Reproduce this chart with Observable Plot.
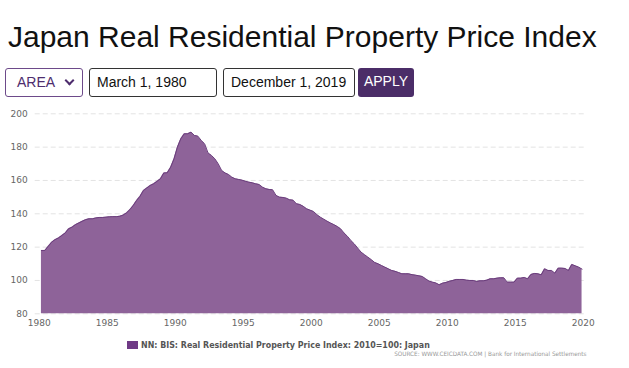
<!DOCTYPE html>
<html>
<head>
<meta charset="utf-8">
<script src="https://cdn.jsdelivr.net/npm/d3@7"></script>
<script src="https://cdn.jsdelivr.net/npm/@observablehq/plot@0.6"></script>
<style>
  html, body { margin: 0; padding: 0; background: #fff; }
  #page { position: relative; width: 629px; height: 368px; overflow: hidden; font-family: "Liberation Sans", Arial, sans-serif; }
  #title { position: absolute; left: 8px; top: 22px; font-size: 30px; line-height: 30px; color: #111; white-space: nowrap; }
  .ctl { position: absolute; top: 68px; height: 29px; box-sizing: border-box; border-radius: 3px; font-size: 14px; line-height: 27px; white-space: nowrap; }
  #sel { left: 5px; width: 78px; border: 1px solid #6d4a8a; color: #4e2d6e; padding-left: 11px; }
  #sel .chev { position: absolute; right: 9px; top: 8px; width: 5px; height: 5px; border-right: 2px solid #4e2d6e; border-bottom: 2px solid #4e2d6e; transform: rotate(45deg); }
  #d1 { left: 89px; width: 128px; border: 1px solid #333; color: #111; padding-left: 7px; }
  #d2 { left: 223px; width: 132px; border: 1px solid #333; color: #111; padding-left: 7px; }
  #apply { left: 358px; width: 56px; background: #4b2d68; color: #fff; text-align: center; }
  #chart { position: absolute; left: 0; top: 100px; }
  #legend { position: absolute; left: 127px; top: 340px; font-family: "DejaVu Sans", sans-serif; font-weight: bold; font-size: 9px; color: #555; white-space: nowrap; display: flex; align-items: center; }
  #legend .sw { width: 11px; height: 8px; background: #6f3a86; margin-right: 3px; }
  #legtext { display: inline-block; transform: scaleX(0.88); transform-origin: left center; }
  #source { position: absolute; right: 42px; top: 350px; font-family: "DejaVu Sans", sans-serif; font-size: 6px; color: #999; white-space: nowrap; transform: scaleX(0.95); transform-origin: right center; }
</style>
</head>
<body>
<div id="page">
  <div id="title">Japan Real Residential Property Price Index</div>
  <div class="ctl" id="sel">AREA<span class="chev"></span></div>
  <div class="ctl" id="d1">March 1, 1980</div>
  <div class="ctl" id="d2">December 1, 2019</div>
  <div class="ctl" id="apply">APPLY</div>
  <div id="chart"></div>
  <div id="legend"><span class="sw"></span><span id="legtext"></span></div>
  <div id="source">SOURCE: WWW.CEICDATA.COM | Bank for International Settlements</div>
</div>
<script>
// Quarterly observations (Mar, Jun, Sep, Dec), index 2010=100
const startYear = 1980;
const quarterMonths = [2, 5, 8, 11];
const values1980s = [
  118, 118, 120.5, 123,
  124.5, 125.5, 127, 128.5,
  131, 132, 133.5, 134.5,
  135.5, 136.5, 137, 137,
  137.5, 137.8, 137.8, 138,
  138.2, 138.3, 138.3, 138.5,
  139.2, 140.5, 142.5, 145,
  148, 150.5, 154, 155.5,
  157, 158, 159.5, 161,
  164.5, 164.6, 168, 173
];
const values1990s = [
  180, 185, 188, 188,
  189, 187, 186.6, 184,
  182, 176.5, 175, 173,
  170, 166, 164.5, 163.6,
  162, 161, 160.6, 160.2,
  159.5, 159, 158.6, 158,
  157.6, 156, 155, 154.6,
  154.4, 151, 150, 149.8,
  149.4, 148.4, 148.2, 146,
  145.6, 144.5, 143, 142.2
];
const values2000s = [
  141.4, 139.5, 138, 136.8,
  135.6, 134.5, 133.5, 132.4,
  131, 128.5, 126.5, 124,
  122, 119.5, 117, 115.5,
  114, 112.5, 110.8, 110,
  109, 108, 107, 106,
  105.5, 104.8, 104, 104,
  104, 103.5, 103.2, 102.8,
  102.4, 101, 99.6, 99,
  98.5, 97.4, 98.4, 98.8
];
const values2010s = [
  99.5, 100, 100.6, 100.6,
  100.6, 100.2, 100, 100,
  99.4, 99.8, 99.8, 100.2,
  101, 101, 101.4, 101.6,
  101.6, 99, 99, 99,
  101.4, 101.4, 101.8, 101,
  103.6, 104.2, 104, 103.4,
  107, 106, 106, 104.4,
  107.4, 107.4, 107.2, 106,
  109.6, 108.8, 108, 106.8
];
const yTicks = [80, 100, 120, 140, 160, 180, 200];
const xTickYears = [1980, 1985, 1990, 1995, 2000, 2005, 2010, 2015, 2020];
const seriesName = "NN: BIS: Real Residential Property Price Index: 2010=100: Japan";

const allValues = [...values1980s, ...values1990s, ...values2000s, ...values2010s];
const data = allValues.map((v, i) => ({
  date: new Date(Date.UTC(startYear + Math.floor(i / 4), quarterMonths[i % 4], 1)),
  value: v
}));

document.getElementById("legtext").textContent = seriesName;

const chart = Plot.plot({
  width: 629,
  height: 235,
  marginTop: 13.3,
  marginBottom: 21.7,
  marginLeft: 38.7,
  marginRight: 46.3,
  style: { fontFamily: "DejaVu Sans, sans-serif", fontSize: "9px", color: "#666", background: "transparent" },
  x: {
    type: "utc",
    domain: [new Date(Date.UTC(xTickYears[0], 0, 1)), new Date(Date.UTC(xTickYears[xTickYears.length - 1], 0, 1))],
    ticks: xTickYears.map(y => new Date(Date.UTC(y, 0, 1))),
    tickFormat: d3.utcFormat("%Y"),
    tickSize: 0,
    tickPadding: 6,
    label: null
  },
  y: {
    domain: [yTicks[0], yTicks[yTicks.length - 1]],
    ticks: yTicks,
    tickSize: 0,
    tickPadding: 11.4,
    label: null
  },
  marks: [
    Plot.gridY(yTicks, { stroke: "#e3e3e3", strokeOpacity: 1, strokeDasharray: "5,3", insetLeft: -4, insetRight: -4 }),
    Plot.areaY(data, { x: "date", y1: yTicks[0], y2: "value", fill: "#8e6399", fillOpacity: 1 }),
    Plot.lineY(data, { x: "date", y: "value", stroke: "#6a3d7c", strokeWidth: 1 })
  ]
});
document.getElementById("chart").appendChild(chart);
</script>
</body>
</html>
